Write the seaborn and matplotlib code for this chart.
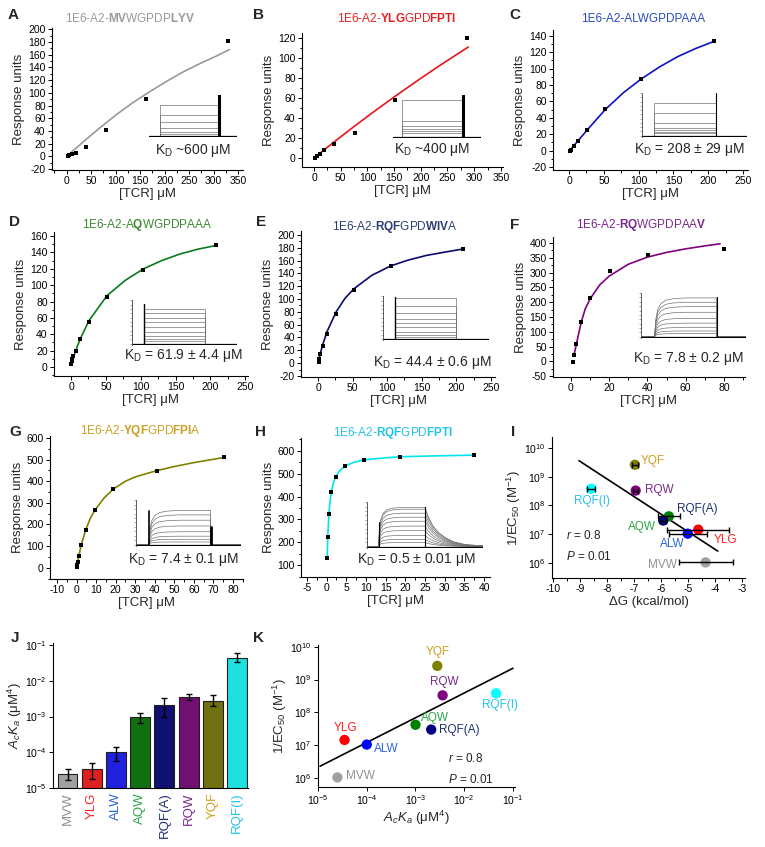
"""
Recreate the 1E6 TCR / peptide binding figure (panels A-K).
"""

import numpy as np
import pandas as pd
import matplotlib.pyplot as plt
import seaborn as sns
from matplotlib.ticker import MultipleLocator, AutoMinorLocator, LogLocator, NullLocator

# ---------------------------------------------------------------- data
# SPR equilibrium points (black squares), [TCR] uM vs response units
A_x = [2, 5, 10, 20, 40, 80, 162, 330]
A_y = [0, 1.5, 3.5, 6, 14, 41, 90, 181]
B_x = [2, 6, 10.5, 18, 37.5, 76, 151, 287]
B_y = [0, 2.3, 4.4, 8, 14.4, 24.5, 58, 120]
C_x = [0.8, 1.6, 3.3, 6.6, 13, 26, 52, 104, 208]
C_y = [-1, -0.5, 1, 5, 12, 25.5, 51, 87, 133]
D_x = [0.4, 0.8, 1.6, 3.3, 6.6, 13, 26, 52, 104, 208]
D_y = [4, 7, 10, 14, 20, 34, 54.5, 85, 118, 148.5]
E_x = [0.8, 1.6, 3.3, 6.6, 13, 26, 52, 105, 210]
E_y = [2, 6, 15, 26, 46, 77, 114, 151, 178]
F_x = [1, 1.6, 2.8, 5.3, 10.2, 20.2, 40.2, 80]
F_y = [-2, 22, 57, 133, 213, 305, 360, 380]
G_x = [0.1, 0.3, 0.6, 1.2, 2.3, 4.7, 9.3, 18.8, 41, 75.5]
G_y = [5, 12, 28, 56, 104, 176, 266, 364, 449, 510]
H_x = [0.15, 0.29, 0.59, 1.17, 2.3, 4.7, 9.4, 18.75, 37.5]
H_y = [130, 221, 322, 418, 487, 534, 560, 574, 581]

# fitted binding curves
A_fx = [0, 34, 68, 102, 136, 170, 204, 238, 272, 306, 332]
A_fy = [0, 23, 45, 66, 85, 102, 118, 133, 146, 158, 168]
B_fx = [0, 18, 37.5, 75, 110, 150, 190, 230, 260, 289]
B_fy = [0, 7.7, 16, 31.5, 45.5, 61, 76, 90.5, 101, 111]
C_fx = [0, 13, 26, 52, 78, 104, 130, 156, 182, 208]
C_fy = [-1, 12, 25, 50, 70.5, 87.5, 102, 114.5, 124.5, 133]
D_fx = [0, 3.3, 6.6, 13, 26, 52, 78, 104, 130, 156, 182, 208]
D_fy = [2, 11, 19.5, 34, 57, 87.5, 106, 120, 130, 138, 144, 148.5]
E_fx = [0, 1.6, 3.3, 6.6, 13, 26, 39, 52, 78, 105, 130, 157, 183, 210]
E_fy = [0, 7.5, 15, 28, 49, 79.5, 101, 116, 137, 151.5, 160.5, 168, 173, 178]
F_fx = [1.6, 2.8, 5.3, 7.5, 10.2, 15, 20, 30, 40, 50, 60, 70, 78]
F_fy = [22, 57, 131, 178, 213, 258, 288, 328, 352, 368, 380, 390, 397]
G_fx = [0, 0.6, 1.2, 2.3, 4.7, 7, 9.3, 14, 18.8, 25, 30, 41, 50, 60, 75.5]
G_fy = [2, 28, 56, 104, 176, 228, 266, 322, 364, 400, 420, 449, 468, 486, 510]
H_fx = [0.15, 0.29, 0.45, 0.59, 0.85, 1.17, 1.7, 2.3, 3.3, 4.7, 7, 9.4, 14, 18.75, 28, 37.5]
H_fy = [130, 221, 280, 322, 375, 418, 458, 487, 512, 534, 550, 560, 568, 574, 578, 581]

# sensorgram insets: normalised plateau level of each injection
A_sens = [0.75, 0.5, 0.33, 0.2, 0.1, 0.05]
B_sens = [0.88, 0.38, 0.27, 0.19, 0.13, 0.08]
C_sens = [0.77, 0.52, 0.29, 0.19, 0.13, 0.09, 0.06]
D_sens = [0.81, 0.7, 0.6, 0.5, 0.39, 0.28, 0.19, 0.11, 0.06]
E_sens = [0.95, 0.76, 0.61, 0.47, 0.36, 0.27, 0.17, 0.1, 0.05]
F_sens = [0.89, 0.79, 0.69, 0.56, 0.42, 0.31, 0.21, 0.13, 0.07]
G_sens = [0.77, 0.67, 0.55, 0.42, 0.29, 0.19, 0.12, 0.06]
H_sens = [0.88, 0.84, 0.75, 0.66, 0.57, 0.46, 0.36, 0.25, 0.16, 0.09]
# association / dissociation shape of the slow insets
rise_t = [0, 0.02, 0.05, 0.1, 0.18, 0.3, 0.5, 1.0]
rise_f = [0, 0.45, 0.7, 0.85, 0.94, 0.98, 1.0, 1.0]
fall_t = [0, 0.06, 0.14, 0.24, 0.36, 0.5, 0.7, 1.0]
fall_f = [1.0, 0.75, 0.52, 0.35, 0.22, 0.12, 0.05, 0.02]

# summary panels I-K
peptides = ['MVW', 'YLG', 'ALW', 'AQW', 'RQF(A)', 'RQW', 'YQF', 'RQF(I)']
dG = [-4.36, -4.63, -5.02, -5.72, -5.93, -6.95, -6.98, -8.6]
dG_err = [1.0, 1.15, 0.7, 0.41, 0.12, 0.1, 0.1, 0.15]
inv_ec50 = [1.05e6, 1.45e7, 1.05e7, 4.2e7, 3.0e7, 3.3e8, 2.6e9, 3.8e8]
ac_ka = [2.5e-5, 3.5e-5, 1.0e-4, 1.0e-3, 2.1e-3, 3.6e-3, 2.8e-3, 4.5e-2]
ac_ka_hi = [3.4e-5, 5.0e-5, 1.45e-4, 1.3e-3, 3.4e-3, 4.3e-3, 3.9e-3, 5.9e-2]
ac_ka_lo = [1.7e-5, 1.8e-5, 5.8e-5, 6.5e-4, 9.5e-4, 3.0e-3, 2.0e-3, 3.3e-2]
I_line_x = [-9.05, -3.91]
I_line_y = [3.6e9, 2.6e6]
K_line_x = [1.1e-5, 1.0e-1]
K_line_y = [2.3e6, 2.2e9]

mark_colors = ['#a0a0a0', '#ff0000', '#0000ff', '#008000', '#000080', '#800080', '#808000', '#00ffff']
text_colors = ['#909090', '#ff2020', '#2a64d8', '#2aa84a', '#1f3070', '#7a2a8a', '#d0a020', '#22c4e8']

W, H = 765, 847


def px_box(x0, x1, y0, y1):
    return [x0 / W, 1 - y1 / H, (x1 - x0) / W, (y1 - y0) / H]


def style_axis(ax):
    sns.despine(ax=ax)
    ax.tick_params(which='both', direction='out', labelsize=7.5, width=0.7, pad=1.5)
    ax.tick_params(which='major', length=3)
    ax.tick_params(which='minor', length=1.8)


def draw_inset(ax, box, levels, on, off, curved=False, decay=False,
               left_axis=True, spikes=()):
    ins = ax.inset_axes(box)
    for lv in levels:
        if curved:
            xs = [0, on] + [on + t * (off - on) for t in rise_t]
            ys = [0, 0] + [lv * f for f in rise_f]
        else:
            xs = [0, on, on, off]
            ys = [0, 0, lv, lv]
        if decay:
            xs += [off + t * (1 - off) for t in fall_t]
            ys += [lv * f for f in fall_f]
        else:
            xs += [off, 1]
            ys += [0, 0]
        ins.plot(xs, ys, color='0.45', lw=0.5)
    ins.plot([0, 1], [0, 0], color='k', lw=0.9)
    for sx, sh, lw in spikes:
        ins.plot([sx, sx], [0, sh], color='k', lw=lw)
    ins.set_xlim(0, 1)
    ins.set_ylim(-0.03, 1.0)
    ins.set_xticks([])
    for s in ['top', 'right', 'bottom']:
        ins.spines[s].set_visible(False)
    if left_axis:
        ins.spines['left'].set_linewidth(0.6)
        ins.spines['left'].set_color('0.25')
        ins.yaxis.set_major_locator(MultipleLocator(0.1))
        ins.tick_params(axis='y', length=1.2, width=0.4, labelleft=False, color='0.4')
    else:
        ins.spines['left'].set_visible(False)
        ins.set_yticks([])
    ins.patch.set_alpha(0)
    return ins


def binding_panel(fig, spec):
    ax = fig.add_axes(px_box(*spec['box']))
    sns.lineplot(x=spec['fx'], y=spec['fy'], ax=ax, color=spec['color'], lw=1.2,
                 sort=False, estimator=None)
    sns.scatterplot(x=spec['x'], y=spec['y'], ax=ax, marker='s', color='k', s=7,
                    linewidth=0, zorder=3)
    ax.set_xlim(*spec['xlim'])
    ax.set_ylim(*spec['ylim'])
    ax.xaxis.set_major_locator(MultipleLocator(spec['xstep']))
    ax.yaxis.set_major_locator(MultipleLocator(spec['ystep']))
    ax.xaxis.set_minor_locator(AutoMinorLocator(2))
    ax.yaxis.set_minor_locator(AutoMinorLocator(2))
    style_axis(ax)
    ax.set_xlabel('[TCR] μM', fontsize=9.5, labelpad=1)
    ax.set_ylabel('Response units', fontsize=9.5, labelpad=2)
    ax.text(spec['title_pos'][0], spec['title_pos'][1], spec['title'], transform=ax.transAxes,
            ha='center', va='center', fontsize=8.5, color=spec['tcolor'])
    ax.text(spec['kd_pos'][0], spec['kd_pos'][1], spec['kd'], transform=ax.transAxes,
            ha='center', va='center', fontsize=10)
    draw_inset(ax, **spec['inset'])
    return ax


def main():
    sns.set_style('ticks')
    plt.rcParams['font.family'] = ['Liberation Sans', 'DejaVu Sans']
    plt.rcParams['mathtext.fontset'] = 'custom'
    plt.rcParams['mathtext.rm'] = 'Liberation Sans'
    plt.rcParams['mathtext.it'] = 'Liberation Sans:italic'
    plt.rcParams['mathtext.bf'] = 'Liberation Sans:bold'
    plt.rcParams['axes.unicode_minus'] = False
    plt.rcParams['axes.linewidth'] = 0.8
    plt.rcParams['axes.edgecolor'] = 'k'
    plt.rcParams['xtick.color'] = 'k'
    plt.rcParams['ytick.color'] = 'k'

    fig = plt.figure(figsize=(W / 100, H / 100), dpi=100)

    panels = [
        dict(box=(52, 243, 28, 170), x=A_x, y=A_y, fx=A_fx, fy=A_fy, color='#999999',
             xlim=(-30, 360), ylim=(-21.5, 202), xstep=50, ystep=20,
             title=r'1E6-A2-$\mathbf{MV}$WGPDP$\mathbf{LYV}$', tcolor='#9a9a9a',
             title_pos=(0.41, 1.07), kd=r'K$_\mathrm{D}$ ~600 μM', kd_pos=(0.74, 0.14),
             inset=dict(box=[0.508, 0.232, 0.461, 0.296], levels=A_sens, on=0.12, off=0.78,
                        left_axis=False, spikes=[(0.80, 1.0, 2.2)])),
        dict(box=(302, 503, 33, 167), x=B_x, y=B_y, fx=B_fx, fy=B_fy, color='#e8141c',
             xlim=(-22.5, 354), ylim=(-9, 125), xstep=50, ystep=20,
             title=r'1E6-A2-$\mathbf{YLG}$GPD$\mathbf{FPTI}$', tcolor='#e62020',
             title_pos=(0.47, 1.11), kd=r'K$_\mathrm{D}$ ~400 μM', kd_pos=(0.647, 0.134),
             inset=dict(box=[0.453, 0.216, 0.438, 0.32], levels=B_sens, on=0.1, off=0.78,
                        left_axis=False, spikes=[(0.79, 1.0, 2.2)])),
        dict(box=(553, 748, 30, 170), x=C_x, y=C_y, fx=C_fx, fy=C_fy, color='#1010c8',
             xlim=(-23, 257), ylim=(-23.7, 147), xstep=50, ystep=20,
             title='1E6-A2-ALWGPDPAAA', tcolor='#2a4bbd',
             title_pos=(0.46, 1.08), kd=r'K$_\mathrm{D}$ = 208 ± 29 μM', kd_pos=(0.70, 0.143),
             inset=dict(box=[0.456, 0.236, 0.54, 0.314], levels=C_sens, on=0.11, off=0.70,
                        spikes=[(0.70, 1.0, 0.8)])),
        dict(box=(54, 248, 232, 376), x=D_x, y=D_y, fx=D_fx, fy=D_fy, color='#0b7a1a',
             xlim=(-24.4, 254), ylim=(-11, 165), xstep=50, ystep=20,
             title=r'1E6-A2-A$\mathbf{Q}$WGPDPAAA', tcolor='#3b8a30',
             title_pos=(0.48, 1.05), kd=r'K$_\mathrm{D}$ = 61.9 ± 4.4 μM', kd_pos=(0.665, 0.139),
             inset=dict(box=[0.402, 0.215, 0.54, 0.31], levels=D_sens, on=0.11, off=0.70,
                        spikes=[(0.11, 0.92, 1.0)])),
        dict(box=(301, 495, 231, 377), x=E_x, y=E_y, fx=E_fx, fy=E_fy, color='#0a0a70',
             xlim=(-24.6, 256), ylim=(-21.6, 206), xstep=50, ystep=20,
             title=r'1E6-A2-$\mathbf{RQF}$GPD$\mathbf{WIV}$A', tcolor='#2a3f70',
             title_pos=(0.485, 1.03), kd=r'K$_\mathrm{D}$ = 44.4 ± 0.6 μM', kd_pos=(0.675, 0.096),
             inset=dict(box=[0.423, 0.253, 0.546, 0.30], levels=E_sens, on=0.11, off=0.69,
                        spikes=[(0.11, 0.98, 1.0)])),
        dict(box=(553, 745, 237, 377), x=F_x, y=F_y, fx=F_fx, fy=F_fy, color='#800080',
             xlim=(-9.4, 91), ylim=(-53, 420), xstep=20, ystep=50,
             title=r'1E6-A2-$\mathbf{RQ}$WGPDPAA$\mathbf{V}$', tcolor='#7a2a8a',
             title_pos=(0.46, 1.086), kd=r'K$_\mathrm{D}$ = 7.8 ± 0.2 μM', kd_pos=(0.703, 0.129),
             inset=dict(box=[0.458, 0.279, 0.547, 0.32], levels=F_sens, on=0.13, off=0.72,
                        curved=True, spikes=[(0.72, 0.92, 0.8)])),
        dict(box=(50, 243, 436, 579), x=G_x, y=G_y, fx=G_fx, fy=G_fy, color='#808000',
             xlim=(-13.6, 85.1), ylim=(-52, 609), xstep=10, ystep=100,
             title=r'1E6-A2-$\mathbf{YQF}$GPD$\mathbf{FPI}$A', tcolor='#c9a020',
             title_pos=(0.47, 1.035), kd=r'K$_\mathrm{D}$ = 7.4 ± 0.1 μM', kd_pos=(0.689, 0.133),
             inset=dict(box=[0.446, 0.231, 0.544, 0.32], levels=G_sens, on=0.12, off=0.71,
                        curved=True, spikes=[(0.12, 0.75, 1.2), (0.715, 0.4, 2.0)])),
        dict(box=(301, 490, 438, 577), x=H_x, y=H_y, fx=H_fx, fy=H_fy, color='#00e5f0',
             xlim=(-6.5, 41.5), ylim=(48, 656), xstep=5, ystep=100,
             title=r'1E6-A2-$\mathbf{RQF}$GPD$\mathbf{FPTI}$', tcolor='#22c4e8',
             title_pos=(0.487, 1.036), kd=r'K$_\mathrm{D}$ = 0.5 ± 0.01 μM', kd_pos=(0.608, 0.123),
             inset=dict(box=[0.349, 0.209, 0.614, 0.33], levels=H_sens, on=0.1, off=0.5,
                        curved=True, decay=True, spikes=[(0.1, 0.55, 0.8), (0.5, 0.9, 0.8)])),
    ]
    for spec in panels:
        binding_panel(fig, spec)

    # ---- I: 1/EC50 vs dG
    ax = fig.add_axes(px_box(552, 745, 437, 578))
    ax.set_yscale('log')
    sns.lineplot(x=I_line_x, y=I_line_y, ax=ax, color='k', lw=1.2)
    sns.scatterplot(x=dG, y=inv_ec50, hue=peptides, palette=mark_colors, s=55,
                    linewidth=0, legend=False, ax=ax, zorder=3)
    ax.errorbar(dG, inv_ec50, xerr=dG_err, fmt='none', ecolor='k', elinewidth=1,
                capsize=2, capthick=1, zorder=4)
    ax.set_xlim(-10.05, -2.9)
    ax.set_ylim(10 ** 5.48, 10 ** 10.38)
    ax.xaxis.set_major_locator(MultipleLocator(1))
    ax.xaxis.set_minor_locator(AutoMinorLocator(2))
    ax.yaxis.set_major_locator(LogLocator(base=10, numticks=10))
    ax.yaxis.set_minor_locator(NullLocator())
    style_axis(ax)
    ax.set_xlabel('ΔG (kcal/mol)', fontsize=9.5, labelpad=1)
    ax.set_ylabel(r'1/EC$_{50}$ (M$^{-1}$)', fontsize=9.5, labelpad=1)
    I_lab = [(-5.43, 10 ** 5.94, 'right'), (-4.07, 10 ** 6.81, 'left'), (-5.6, 10 ** 6.67, 'center'),
             (-6.72, 10 ** 7.25, 'center'), (-5.43, 10 ** 7.88, 'left'), (-6.6, 10 ** 8.53, 'left'),
             (-6.75, 10 ** 9.54, 'left'), (-8.56, 10 ** 8.14, 'center')]
    for (tx, ty, ha), name, c in zip(I_lab, peptides, text_colors):
        ax.text(tx, ty, name, color=c, fontsize=8.5, ha=ha, va='center')
    ax.text(0.07, 0.30, r'$r$ = 0.8', transform=ax.transAxes, fontsize=8.5, va='center')
    ax.text(0.07, 0.15, r'$P$ = 0.01', transform=ax.transAxes, fontsize=8.5, va='center')

    # ---- J: AcKa bars
    ax = fig.add_axes(px_box(53, 248, 643, 788))
    df = pd.DataFrame({'peptide': peptides, 'ac_ka': ac_ka})
    sns.barplot(data=df, x='peptide', y='ac_ka', hue='peptide', palette=mark_colors,
                legend=False, width=0.82, edgecolor='#202020', linewidth=0.8, ax=ax)
    ax.set_yscale('log')
    yerr = [np.array(ac_ka) - np.array(ac_ka_lo), np.array(ac_ka_hi) - np.array(ac_ka)]
    ax.errorbar(range(len(peptides)), ac_ka, yerr=yerr, fmt='none', ecolor='k',
                elinewidth=1, capsize=2, capthick=1)
    ax.set_ylim(1e-5, 1.15e-1)
    ax.set_xlim(-0.6, 7.45)
    ax.yaxis.set_major_locator(LogLocator(base=10, numticks=10))
    ax.yaxis.set_minor_locator(NullLocator())
    style_axis(ax)
    ax.tick_params(axis='x', length=0, pad=3)
    ax.set_xticks(range(len(peptides)))
    ax.set_xticklabels(peptides, rotation=90, fontsize=9.5)
    for lbl, c in zip(ax.get_xticklabels(), text_colors):
        lbl.set_color(c)
    ax.set_xlabel('')
    ax.set_ylabel(r'$A_cK_a$ (μM$^4$)', fontsize=9.5, labelpad=1)

    # ---- K: 1/EC50 vs AcKa
    ax = fig.add_axes(px_box(318, 515, 645, 787))
    ax.set_xscale('log')
    ax.set_yscale('log')
    sns.lineplot(x=K_line_x, y=K_line_y, ax=ax, color='k', lw=1.2)
    sns.scatterplot(x=ac_ka, y=inv_ec50, hue=peptides, palette=mark_colors, s=55,
                    linewidth=0, legend=False, ax=ax, zorder=3)
    ax.set_xlim(1e-5, 1.1e-1)
    ax.set_ylim(10 ** 5.73, 10 ** 10.05)
    for axis in (ax.xaxis, ax.yaxis):
        axis.set_major_locator(LogLocator(base=10, numticks=10))
        axis.set_minor_locator(NullLocator())
    style_axis(ax)
    ax.set_xlabel(r'$A_cK_a$ (μM$^4$)', fontsize=9.5, labelpad=1)
    ax.set_ylabel(r'1/EC$_{50}$ (M$^{-1}$)', fontsize=9.5, labelpad=1)
    K_lab = [(10 ** -4.42, 10 ** 6.05, 'left'), (10 ** -4.44, 10 ** 7.53, 'center'),
             (10 ** -3.86, 10 ** 6.9, 'left'), (10 ** -2.88, 10 ** 7.83, 'left'),
             (10 ** -2.52, 10 ** 7.47, 'left'), (10 ** -2.415, 10 ** 8.93, 'center'),
             (10 ** -2.54, 10 ** 9.83, 'center'), (10 ** -1.27, 10 ** 8.23, 'center')]
    for (tx, ty, ha), name, c in zip(K_lab, peptides, text_colors):
        ax.text(tx, ty, name, color=c, fontsize=8.5, ha=ha, va='center', clip_on=False)
    ax.text(0.66, 0.20, r'$r$ = 0.8', transform=ax.transAxes, fontsize=8.5, va='center')
    ax.text(0.66, 0.05, r'$P$ = 0.01', transform=ax.transAxes, fontsize=8.5, va='center')

    # panel letters
    letters = [('A', 13, 15), ('B', 259, 15), ('C', 515, 15), ('D', 15, 222), ('E', 261, 222),
               ('F', 515, 225), ('G', 15, 432), ('H', 261, 432), ('I', 513, 432),
               ('J', 15, 638), ('K', 258, 638)]
    for lt, x, y in letters:
        fig.text(x / W, 1 - y / H, lt, fontsize=11, fontweight='bold', ha='center', va='center')

    fig.savefig('out.png', dpi=100)


if __name__ == '__main__':
    main()
